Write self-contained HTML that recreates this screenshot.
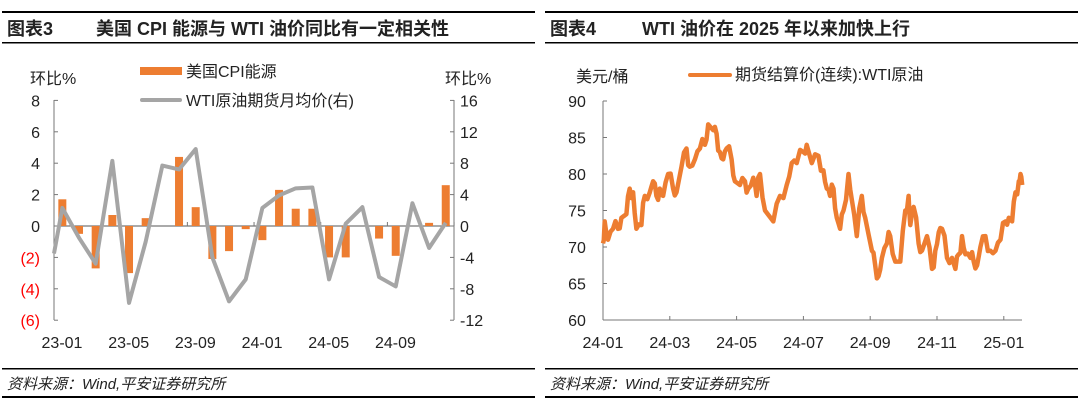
<!DOCTYPE html>
<html><head><meta charset="utf-8"><style>
html,body{margin:0;padding:0;background:#fff;width:1080px;height:404px;overflow:hidden}
svg{display:block}
text{font-family:"Liberation Sans","Noto Sans CJK SC",sans-serif}
</style></head><body>
<svg id="s" width="1080" height="404" xmlns="http://www.w3.org/2000/svg">
<rect x="2" y="11" width="533" height="2" fill="#000"/>
<rect x="2" y="42" width="533" height="1.5" fill="#000"/>
<rect x="545" y="11" width="533" height="2" fill="#000"/>
<rect x="545" y="42" width="533" height="1.5" fill="#000"/>
<text x="7" y="35" font-size="18" font-weight="bold" fill="#222">图表3</text>
<text x="96" y="35" font-size="18" font-weight="bold" fill="#222">美国 CPI 能源与 WTI 油价同比有一定相关性</text>
<text x="550" y="35" font-size="18" font-weight="bold" fill="#222">图表4</text>
<text x="642" y="35" font-size="18" font-weight="bold" fill="#222">WTI 油价在 2025 年以来加快上行</text>
<rect x="2" y="368" width="533" height="1.5" fill="#000"/>
<rect x="2" y="396" width="533" height="2" fill="#000"/>
<rect x="545" y="368" width="533" height="1.5" fill="#000"/>
<rect x="545" y="396" width="533" height="2" fill="#000"/>
<text x="7" y="389" font-size="15" font-style="italic" fill="#222">资料来源：Wind,平安证券研究所</text>
<text x="550" y="389" font-size="15" font-style="italic" fill="#222">资料来源：Wind,平安证券研究所</text>
<g id="g1"></g><g id="g2"></g>
</svg>
<script>
var NS="http://www.w3.org/2000/svg";
function el(p,t,a,txt){var e=document.createElementNS(NS,t);for(var k in a)e.setAttribute(k,a[k]);if(txt!=null)e.textContent=txt;p.appendChild(e);return e;}
var g=document.getElementById('g1');
var x0=54,x1=454,y0=226,ul=15.7,ur=7.85;
el(g,'line',{x1:x0,y1:100,x2:x0,y2:320,stroke:'#777','stroke-width':1});
el(g,'line',{x1:x1,y1:100,x2:x1,y2:320,stroke:'#777','stroke-width':1});
el(g,'line',{x1:x0,y1:y0,x2:x1,y2:y0,stroke:'#555','stroke-width':1});
[8,6,4,2,0,-2,-4,-6].forEach(function(v){var y=y0-v*ul;el(g,'line',{x1:x0,y1:y,x2:x0+4,y2:y,stroke:'#777'});
el(g,'text',{x:40,y:y+6,'font-size':16,'text-anchor':'end',fill:v<0?'#f00':'#222'},v<0?'('+(-v)+')':v);});
[16,12,8,4,0,-4,-8,-12].forEach(function(v){var y=y0-v*ur;el(g,'line',{x1:x1-4,y1:y,x2:x1,y2:y,stroke:'#777'});
el(g,'text',{x:460,y:y+6,'font-size':16,fill:'#222'},v);});
var w=16.67;
for(var i=0;i<=24;i+=4){el(g,'line',{x1:x0+i*w,y1:y0,x2:x0+i*w,y2:y0-4,stroke:'#777'});}
['23-01','23-05','23-09','24-01','24-05','24-09'].forEach(function(l,i){el(g,'text',{x:x0+8+i*4*w,y:348,'font-size':16,'text-anchor':'middle',fill:'#222'},l);});
var bars=[1.7,-0.5,-2.7,0.7,-3.0,0.5,0,4.4,1.2,-2.1,-1.6,-0.2,-0.9,2.3,1.1,1.1,-2.0,-2.0,0,-0.8,-1.9,0,0.2,2.6];
bars.forEach(function(v,i){if(!v)return;var cx=x0+w/2+i*w;var y=y0-v*ul;el(g,'rect',{x:cx-4,y:Math.min(y,y0),width:8,height:Math.abs(v*ul),fill:'#ed7d31'});});
var ln=[2.3,-1.5,-4.8,8.3,-9.8,-2,7.7,7.2,9.8,-4,-9.6,-6.8,2.3,3.9,4.8,4.9,-6.8,0.3,2.4,-6.5,-7.7,2.9,-2.8,0.4];
var pts=[x0+','+(y0+3.5*ur)];ln.forEach(function(v,i){pts.push((x0+w/2+i*w)+','+(y0-v*ur));});
el(g,'polyline',{points:pts.join(' '),fill:'none',stroke:'#a5a5a5','stroke-width':4,'stroke-linejoin':'round'});
el(g,'text',{x:30,y:84,'font-size':16,fill:'#222'},'环比%');
el(g,'text',{x:445,y:84,'font-size':16,fill:'#222'},'环比%');
el(g,'rect',{x:140,y:67,width:42,height:8,fill:'#ed7d31'});
el(g,'text',{x:186,y:77,'font-size':16,fill:'#222'},'美国CPI能源');
el(g,'line',{x1:142,y1:100,x2:180,y2:100,stroke:'#a5a5a5','stroke-width':4,'stroke-linecap':'round'});
el(g,'text',{x:186,y:106,'font-size':16,fill:'#222'},'WTI原油期货月均价(右)');
g=document.getElementById('g2');
var ax=603,ybase=320,u=7.3,m=33.4;
function Y(v){return ybase-(v-60)*u;}
el(g,'line',{x1:ax,y1:101,x2:ax,y2:ybase,stroke:'#777'});
el(g,'line',{x1:ax,y1:ybase,x2:1022,y2:ybase,stroke:'#777'});
[90,85,80,75,70,65,60].forEach(function(v){el(g,'line',{x1:ax,y1:Y(v),x2:ax+4,y2:Y(v),stroke:'#777'});el(g,'text',{x:577,y:Y(v)+6,'font-size':16,'text-anchor':'middle',fill:'#222'},v);});
['24-01','24-03','24-05','24-07','24-09','24-11','25-01'].forEach(function(l,i){var x=ax+i*2*m;el(g,'line',{x1:x,y1:ybase,x2:x,y2:ybase-4,stroke:'#777'});el(g,'text',{x:x,y:348,'font-size':16,'text-anchor':'middle',fill:'#222'},l);});
var d=[[0,70.5],[0.05,73.5],[0.15,71],[0.3,72.5],[0.45,72.5],[0.55,74],[0.7,74.5],[0.8,78],[0.9,77.5],[1.0,72.5],[1.15,73],[1.25,77],[1.4,77.5],[1.5,79],[1.6,77],[1.7,78],[1.8,77],[1.95,80],[2.1,78],[2.2,77.5],[2.35,81],[2.5,83.5],[2.6,81],[2.75,82],[2.9,83.5],[3.05,84],[3.15,86.8],[3.3,86],[3.4,85.5],[3.5,83],[3.6,82],[3.7,83.5],[3.85,82],[3.95,79],[4.1,78.5],[4.25,79],[4.35,78],[4.5,79.5],[4.6,77],[4.7,80],[4.85,75],[5.1,73.5],[5.3,77],[5.5,78.5],[5.65,81.5],[5.8,81.5],[6.0,83],[6.1,84],[6.25,81.5],[6.45,82.5],[6.6,80.5],[6.7,78],[6.8,77],[6.9,78],[7.0,74],[7.1,72.5],[7.2,75],[7.35,80],[7.45,76.5],[7.6,71.5],[7.75,77],[7.85,74],[8.05,69.5],[8.15,67.5],[8.25,66],[8.35,68.5],[8.5,70.5],[8.6,71.5],[8.75,68],[8.9,68],[9.05,75],[9.15,77],[9.2,73],[9.3,75.5],[9.45,70.5],[9.55,69.5],[9.7,71.5],[9.85,67],[9.95,69.5],[10.05,72],[10.15,72.5],[10.3,68.5],[10.45,68.5],[10.55,67],[10.65,69],[10.75,71.5],[10.85,69],[11.0,68.5],[11.1,68],[11.2,67.5],[11.3,70],[11.45,71.5],[11.6,69.5],[11.75,69.5],[11.9,71],[12.05,73.5],[12.15,74],[12.25,73.5],[12.35,77.5],[12.45,79],[12.5,80],[12.55,78.5]];
var p=[];for(var i=0;i<d.length;i++){var a=d[i];p.push((ax+a[0]*m).toFixed(1)+','+Y(a[1]).toFixed(1));
 if(i<d.length-1){var b=d[i+1];var mx=ax+(a[0]+b[0])/2*m;var j=((i*37)%7-3)*0.35;p.push(mx.toFixed(1)+','+Y((a[1]+b[1])/2+j).toFixed(1));}}
el(g,'polyline',{points:p.join(' '),fill:'none',stroke:'#ed7d31','stroke-width':4.5,'stroke-linejoin':'round'});
el(g,'text',{x:576,y:82,'font-size':16,fill:'#222'},'美元/桶');
el(g,'line',{x1:690,y1:75,x2:730,y2:75,stroke:'#ed7d31','stroke-width':4,'stroke-linecap':'round'});
el(g,'text',{x:735,y:80,'font-size':16,fill:'#222'},'期货结算价(连续):WTI原油');
</script>
</body></html>
